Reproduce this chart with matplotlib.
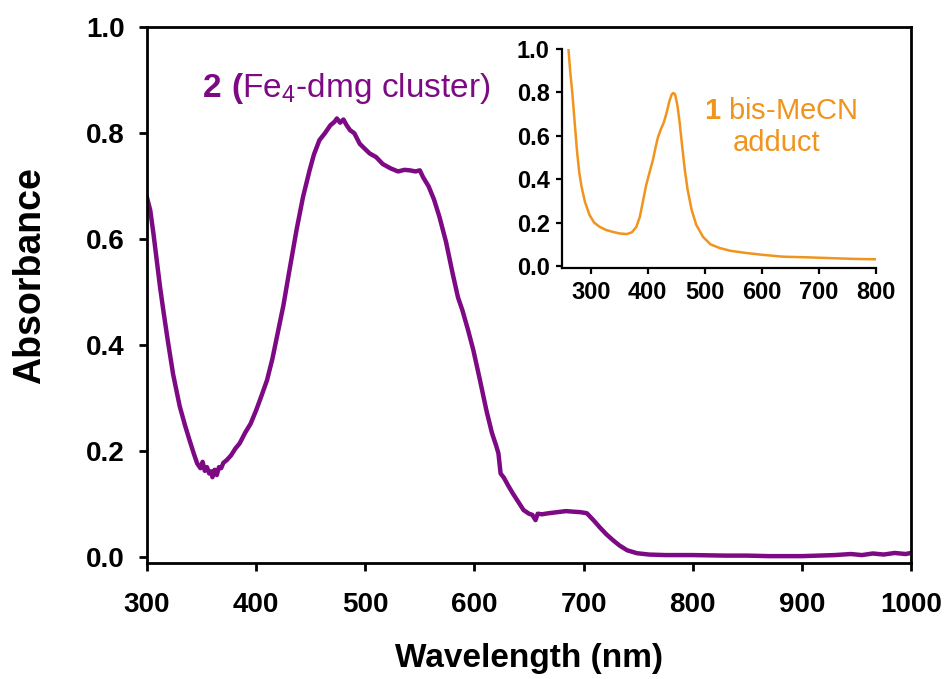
import matplotlib
matplotlib.use("Agg")
from matplotlib import pyplot as plt
import numpy as np

plt.rcParams['font.family'] = ['Liberation Sans', 'DejaVu Sans']
plt.rcParams['mathtext.fontset'] = 'custom'
plt.rcParams['mathtext.rm'] = 'Liberation Sans'
plt.rcParams['mathtext.bf'] = 'Liberation Sans:bold'

PURPLE = '#7d0a84'
ORANGE = '#f0941e'

# spectrum of 2 (Fe4-dmg cluster)
wl_2 = [300, 303, 306, 309, 312, 315, 319, 324, 330, 335, 339, 343, 346, 349,
        351, 353, 355, 357, 359, 360, 362, 364, 366, 368, 370, 373, 377, 381,
        385, 390, 395, 400, 405, 410, 415, 420, 425, 430, 437, 443, 449,
        453, 458, 463, 468, 472, 474, 477, 480, 483, 486, 490, 495, 500, 504,
        510, 516, 523, 530, 536, 541, 546, 550, 553, 558, 563, 568, 574, 580,
        585, 589, 594, 599, 605, 611, 616, 620, 622, 624, 627, 631, 635, 640,
        645, 650, 653, 656, 658, 662, 668, 676, 684, 690, 697, 703, 709, 715,
        721, 727, 733, 740, 749, 760, 775, 800, 830, 850, 870, 890, 900, 915,
        930, 945, 955, 965, 975, 985, 995, 1000]
abs_2 = [0.679, 0.655, 0.61, 0.56, 0.51, 0.466, 0.41, 0.345, 0.285, 0.248,
         0.221, 0.195, 0.177, 0.168, 0.18, 0.163, 0.17, 0.158, 0.162, 0.151,
         0.165, 0.155, 0.17, 0.168, 0.178, 0.183, 0.192, 0.205, 0.215, 0.235,
         0.252, 0.277, 0.305, 0.334, 0.375, 0.425, 0.475, 0.535, 0.617, 0.68,
         0.73, 0.76, 0.787, 0.8, 0.815, 0.822, 0.828, 0.82, 0.826, 0.815, 0.806,
         0.8, 0.78, 0.77, 0.762, 0.755, 0.742, 0.734, 0.728, 0.731, 0.73, 0.728,
         0.73, 0.717, 0.7, 0.675, 0.642, 0.595, 0.536, 0.49, 0.466, 0.43,
         0.391, 0.335, 0.277, 0.235, 0.21, 0.196, 0.158, 0.15, 0.135, 0.121,
         0.105, 0.089, 0.082, 0.08, 0.07, 0.082, 0.081, 0.083, 0.085, 0.087,
         0.086, 0.085, 0.083, 0.07, 0.056, 0.043, 0.032, 0.022, 0.013, 0.0075,
         0.005, 0.004, 0.004, 0.003, 0.003, 0.002, 0.002, 0.002, 0.003, 0.004,
         0.006, 0.004, 0.007, 0.005, 0.008, 0.006, 0.008]

# inset: spectrum of 1 (bis-MeCN adduct)
wl_1 = [261, 264, 268, 272, 276, 280, 284, 290, 298, 306, 316, 327, 339, 351,
        363, 372, 380, 386, 391, 397, 403, 409, 414, 418, 423, 428, 433, 438,
        442, 445, 448, 452, 456, 460, 465, 470, 477, 485, 497, 510, 526, 545,
        573, 600, 637, 680, 725, 760, 800]
abs_1 = [1.0, 0.9, 0.79, 0.66, 0.53, 0.43, 0.365, 0.295, 0.235, 0.2, 0.18,
         0.166, 0.157, 0.15, 0.147, 0.155, 0.18, 0.225, 0.29, 0.37, 0.43,
         0.488, 0.55, 0.594, 0.63, 0.66, 0.705, 0.76, 0.79, 0.797, 0.79, 0.74,
         0.659, 0.56, 0.442, 0.35, 0.258, 0.19, 0.134, 0.1, 0.083, 0.07, 0.06,
         0.052, 0.043, 0.04, 0.036, 0.033, 0.031]

fig = plt.figure(figsize=(9.48, 6.79), dpi=100)

ax = fig.add_axes([0.155, 0.1708, 0.806, 0.789])
ax.plot(wl_2, abs_2, color=PURPLE, lw=3.2)
ax.set_xlim(300, 1000)
ax.set_ylim(-0.011, 1.0)
ax.set_xticks(np.arange(300, 1001, 100))
ax.set_yticks(np.arange(0, 1.01, 0.2))
ax.set_yticklabels(['%.1f' % v for v in np.arange(0, 1.01, 0.2)])
for s in ax.spines.values():
    s.set_linewidth(2)
ax.tick_params(direction='out', length=6, width=2, labelsize=20)
ax.tick_params(axis='x', pad=15)
ax.tick_params(axis='y', pad=10)
for lab in ax.get_xticklabels() + ax.get_yticklabels():
    lab.set_fontweight('bold')
ax.set_xlabel('Wavelength (nm)', fontsize=24, fontweight='bold', labelpad=18)
ax.set_ylabel('Absorbance', fontsize=27, fontweight='bold')
ax.yaxis.set_label_coords(-0.129, 0.537)
ax.text(350, 0.868, r'$\mathbf{2\ (}$Fe$_4$-dmg cluster)', color=PURPLE,
        fontsize=24, va='baseline', ha='left')

ins = fig.add_axes([0.593, 0.605, 0.331, 0.323])
ins.plot(wl_1, abs_1, color=ORANGE, lw=1.8)
ins.set_xlim(250, 800)
ins.set_ylim(-0.01, 1.0)
ins.set_xticks(np.arange(300, 801, 100))
ins.set_yticks(np.arange(0, 1.01, 0.2))
ins.set_yticklabels(['%.1f' % v for v in np.arange(0, 1.01, 0.2)])
ins.spines['top'].set_visible(False)
ins.spines['right'].set_visible(False)
for s in ins.spines.values():
    s.set_linewidth(1.6)
ins.tick_params(direction='out', length=4, width=1.6, labelsize=17, pad=5)
for lab in ins.get_xticklabels() + ins.get_yticklabels():
    lab.set_fontweight('bold')
ins.text(498, 0.675, r'$\mathbf{1}$ bis-MeCN', color=ORANGE, fontsize=21,
         va='baseline', ha='left')
ins.text(549, 0.53, 'adduct', color=ORANGE, fontsize=21,
         va='baseline', ha='left')

fig.savefig('out.png', dpi=100)
